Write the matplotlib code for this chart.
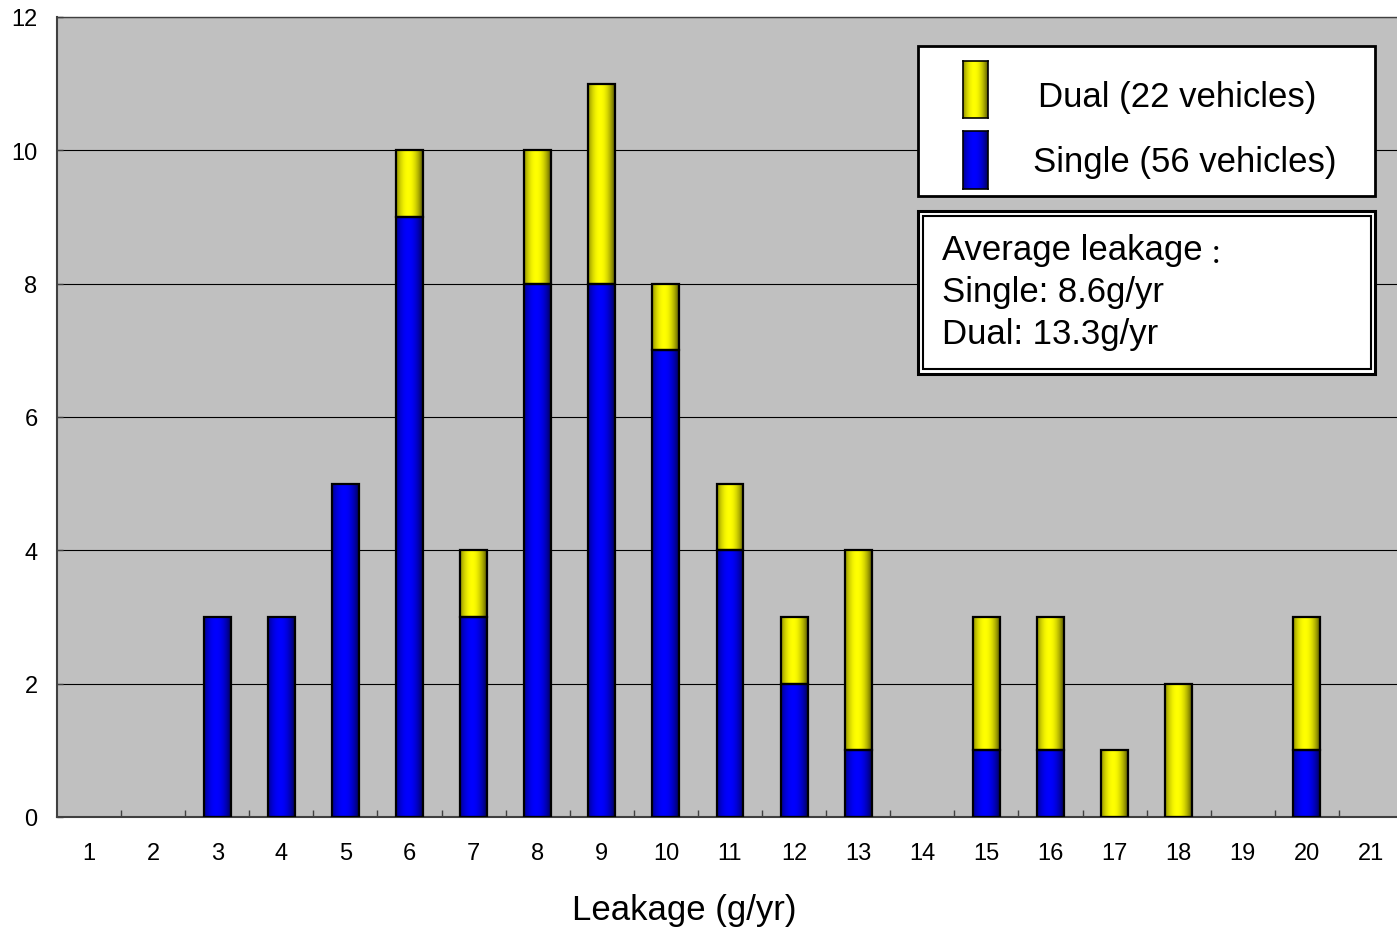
import matplotlib
matplotlib.use("Agg")
import matplotlib.pyplot as plt
from matplotlib.patches import Rectangle
import numpy as np

plt.rcParams['font.family'] = ['Liberation Sans', 'Noto Sans CJK JP', 'DejaVu Sans']

# leakage bins (g/yr) and vehicle counts
leakage = list(range(1, 22))
single = [0, 0, 3, 3, 5, 9, 3, 8, 8, 7, 4, 2, 1, 0, 1, 1, 0, 0, 0, 1, 0]
dual = [0, 0, 0, 0, 0, 1, 1, 2, 3, 1, 1, 1, 3, 0, 2, 2, 1, 2, 0, 2, 0]

legend_labels = ['Dual (22 vehicles)', 'Single (56 vehicles)']
note_title = 'Average leakage'
note_lines = ['Single: 8.6g/yr', 'Dual: 13.3g/yr']

W, H = 1397, 929
fig = plt.figure(figsize=(W / 100, H / 100), dpi=100)
ax = fig.add_axes([57 / W, (H - 818) / H, 1346 / W, 800 / H])
ax.set_facecolor('#C0C0C0')


def px(x, y):
    # image pixel -> figure fraction
    return x / W, 1 - y / H


def gradient(rgb):
    t = np.linspace(0, 1, 64)
    b = np.clip(1 - 0.65 * ((t - 0.45) / 0.55) ** 2, 0.3, 1)
    return (np.array(rgb)[None, :] * b[:, None])[None, :, :]


def shade(patch, rgb):
    # cylinder style gradient over the bar
    w, h = patch.get_width(), patch.get_height()
    if h <= 0:
        return
    x0, y0 = patch.get_xy()
    ax.imshow(gradient(rgb), extent=[x0, x0 + w, y0, y0 + h], aspect='auto',
              interpolation='bilinear', zorder=2.5)


width = 0.42
blue = (0.0, 0.0, 1.0)
yellow = (1.0, 1.0, 0.0)
single = np.array(single)
dual = np.array(dual)
x = np.array(leakage)
ms = single > 0
md = dual > 0
b1 = ax.bar(x[ms], single[ms], width, color=blue, zorder=2)
b2 = ax.bar(x[md], dual[md], width, bottom=single[md], color=yellow, zorder=2)
for p in b1:
    shade(p, blue)
for p in b2:
    shade(p, yellow)
# outlines on top of the shading
ax.bar(x[md], dual[md], width, bottom=single[md], fill=False, edgecolor='black',
       linewidth=1.6, zorder=3)
ax.bar(x[ms], single[ms], width, fill=False, edgecolor='black', linewidth=1.6, zorder=3)

ax.set_xlim(0.5, 21.5)
ax.set_ylim(0, 12)
ax.set_yticks(range(0, 13, 2))
ax.set_xticks(leakage)
ax.set_xticks(np.arange(1.5, 21, 1), minor=True)
ax.yaxis.grid(True, color='black', linewidth=0.8)
ax.set_axisbelow(True)
ax.tick_params(axis='y', direction='in', length=4.5, width=1, color='#404040',
               labelsize=17, pad=14)
ax.tick_params(axis='x', which='major', length=0, labelsize=17, pad=18)
ax.tick_params(axis='x', which='minor', direction='in', length=5, width=1, color='#404040')
for s in ['left', 'bottom']:
    ax.spines[s].set_color('#404040')
    ax.spines[s].set_linewidth(1.5)
ax.spines['top'].set_color('#404040')
ax.spines['top'].set_linewidth(1)
ax.spines['right'].set_visible(False)

ax.set_xlabel('Leakage (g/yr)', fontsize=25)
ax.xaxis.set_label_coords((684 - 57) / 1346, -0.095)

# legend box
x0, y0 = px(918, 197)
x1, y1 = px(1375, 47)
fig.patches.append(Rectangle((x0, y0), x1 - x0, y1 - y0, transform=fig.transFigure,
                             facecolor='white', edgecolor='black', linewidth=2, zorder=5))
for (ty, by, c) in [(62, 119, yellow), (132, 190, blue)]:
    hx0, hy0 = px(963, by)
    hx1, hy1 = px(988, ty)
    hax = fig.add_axes([hx0, hy0, hx1 - hx0, hy1 - hy0], zorder=6)
    hax.imshow(gradient(c), aspect='auto', interpolation='bilinear')
    hax.set_xticks([])
    hax.set_yticks([])
    for sp in hax.spines.values():
        sp.set_linewidth(1.2)
fig.text(*px(1038, 107), legend_labels[0], fontsize=25, va='baseline', zorder=7)
fig.text(*px(1033, 172), legend_labels[1], fontsize=25, va='baseline', zorder=7)

# note box with double border
for (a, b, c, d, lw) in [(918, 212, 1375, 375, 2.2), (923, 217, 1371, 370, 1.5)]:
    x0, y0 = px(a, d)
    x1, y1 = px(c, b)
    fig.patches.append(Rectangle((x0, y0), x1 - x0, y1 - y0, transform=fig.transFigure,
                                 facecolor='white' if lw > 2 else 'none',
                                 edgecolor='black', linewidth=lw, zorder=5))
fig.text(*px(942, 260), note_title, fontsize=25, va='baseline', zorder=7)
fig.text(*px(1203, 263), '\uff1a', fontsize=19, va='baseline', zorder=7,
         family=['Noto Sans CJK JP'])
for line, by in zip(note_lines, [302, 344]):
    fig.text(*px(942, by), line, fontsize=25, va='baseline', zorder=7)

fig.savefig('out.png', dpi=100)
